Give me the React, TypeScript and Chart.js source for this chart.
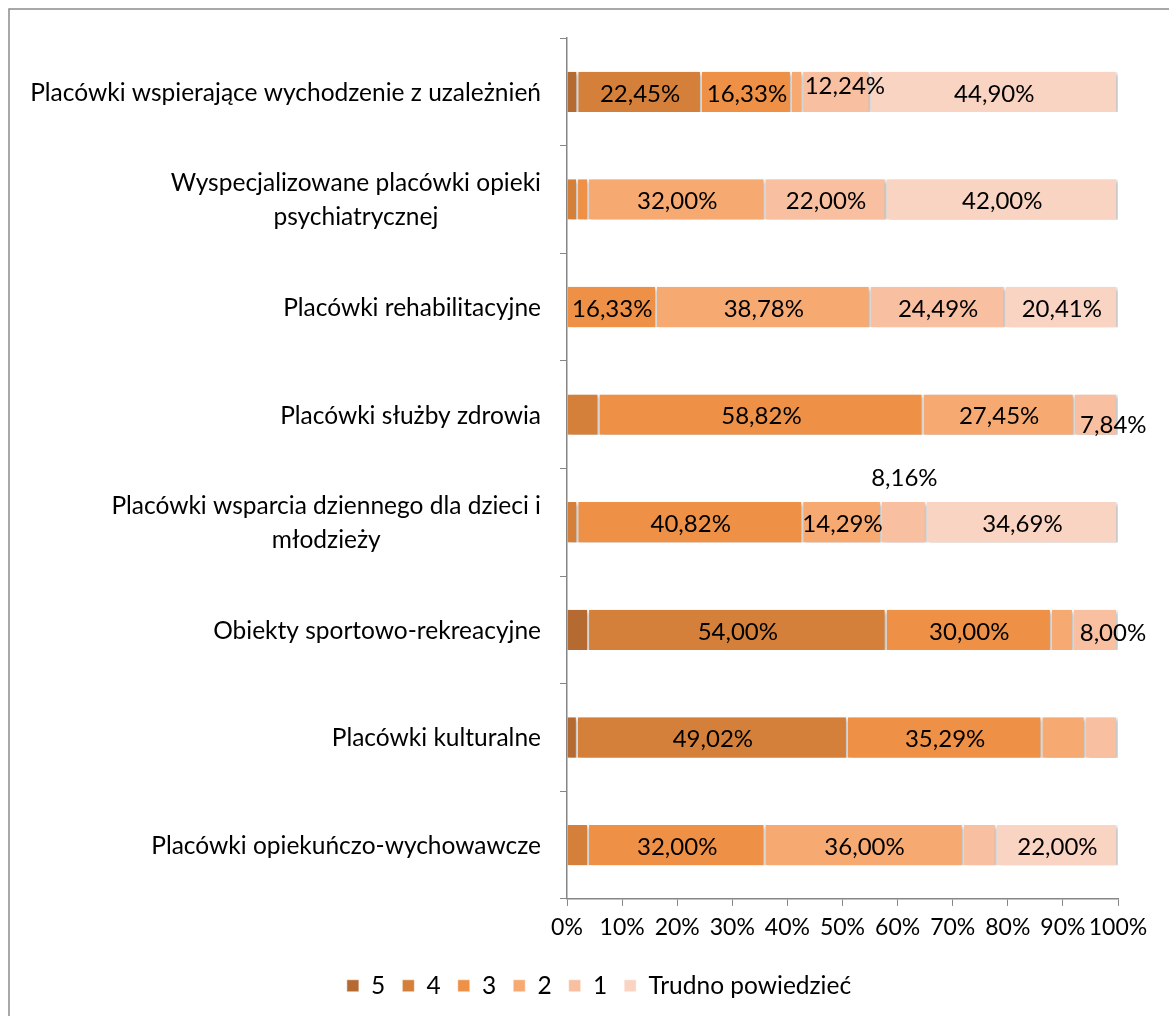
import React, { useEffect, useRef } from "react";
import { Chart, registerables } from "chart.js";

Chart.register(...registerables);

const categories: (string | string[])[] = [
  "Placówki wspierające wychodzenie z uzależnień",
  ["Wyspecjalizowane placówki opieki", "psychiatrycznej"],
  "Placówki rehabilitacyjne",
  "Placówki służby zdrowia",
  ["Placówki wsparcia dziennego dla dzieci i", "młodzieży"],
  "Obiekty sportowo-rekreacyjne",
  "Placówki kulturalne",
  "Placówki opiekuńczo-wychowawcze",
];

const seriesNames = ["5", "4", "3", "2", "1", "Trudno powiedzieć"];

const s5 = [2.04, 0, 0, 0, 0, 4, 1.96, 0];
const s4 = [22.45, 2, 0, 5.88, 2.04, 54, 49.02, 4];
const s3 = [16.33, 2, 16.33, 58.82, 40.82, 30, 35.29, 32];
const s2 = [2.04, 32, 38.78, 27.45, 14.29, 4, 7.84, 36];
const s1 = [12.24, 22, 24.49, 7.84, 8.16, 8, 5.88, 6];
const sTrudno = [44.9, 42, 20.41, 0, 34.69, 0, 0, 22];

// which segments carry a visible value label
const shown5 = [0, 0, 0, 0, 0, 0, 0, 0];
const shown4 = [1, 0, 0, 0, 0, 1, 1, 0];
const shown3 = [1, 0, 1, 1, 1, 1, 1, 1];
const shown2 = [0, 1, 1, 1, 1, 0, 0, 1];
const shown1 = [1, 1, 1, 1, 1, 1, 0, 0];
const shownTrudno = [1, 1, 1, 0, 1, 0, 0, 1];

const xTicks = [0, 10, 20, 30, 40, 50, 60, 70, 80, 90, 100];

const colors = ["#B46A30", "#D4803A", "#EE9046", "#F7A972", "#F8BFA0", "#FAD4C2"];

const FONT = "Lato";
const AXIS_GRAY = "#868686";

// label position adjustments (dataset index - category index)
const labelOffsets: Record<string, { dx: number; dy: number }> = {
  "4-0": { dx: 8, dy: -8 },
  "4-3": { dx: 17, dy: 9 },
  "4-4": { dx: 0, dy: -46 },
  "4-5": { dx: 17, dy: 1 },
};

const fmt = (v: number) => v.toFixed(2).replace(".", ",") + "%";

export default function App() {
  const ref = useRef<HTMLCanvasElement | null>(null);

  useEffect(() => {
    if (!ref.current) return;
    const values = [s5, s4, s3, s2, s1, sTrudno];
    const shown = [shown5, shown4, shown3, shown2, shown1, shownTrudno];

    const framePlugin = {
      id: "frame",
      afterLayout(chart: any) {
        const lg = chart.legend;
        if (lg) {
          lg.left += 40;
          lg.right += 40;
          lg.top += 7;
          lg.bottom += 7;
        }
      },
      beforeDraw(chart: any) {
        const ctx = chart.ctx;
        ctx.save();
        ctx.fillStyle = "#ffffff";
        ctx.fillRect(0, 0, chart.width, chart.height);
        ctx.strokeStyle = "#8c8c8c";
        ctx.lineWidth = 1.5;
        ctx.beginPath();
        ctx.moveTo(9, chart.height);
        ctx.lineTo(9, 9);
        ctx.lineTo(chart.width, 9);
        ctx.stroke();
        ctx.restore();
      },
    };

    const shadowPlugin = {
      id: "barShadow",
      beforeDatasetsDraw(chart: any) {
        const ctx = chart.ctx;
        ctx.save();
        ctx.shadowColor = "rgba(0,0,0,0.28)";
        ctx.shadowBlur = 4;
        ctx.shadowOffsetX = 2;
        ctx.shadowOffsetY = 2;
      },
      afterDatasetsDraw(chart: any) {
        chart.ctx.restore();
      },
    };

    const yLabelPlugin = {
      id: "yLabels",
      afterDraw(chart: any) {
        const ctx = chart.ctx;
        const yScale = chart.scales.y;
        const right = chart.chartArea.left - 26;
        const lineH = 34;
        ctx.save();
        ctx.font = `24.5px ${FONT}`;
        ctx.fillStyle = "#000";
        ctx.textAlign = "center";
        ctx.textBaseline = "middle";
        (chart.data.labels as any[]).forEach((lab, i) => {
          const lines: string[] = Array.isArray(lab) ? lab : [lab];
          const maxW = Math.max(...lines.map((l) => ctx.measureText(l).width));
          const cx = right - maxW / 2;
          const cy = yScale.getPixelForValue(i) + 1;
          const top = cy - ((lines.length - 1) * lineH) / 2;
          lines.forEach((l, k) => ctx.fillText(l, cx, top + k * lineH));
        });
        ctx.restore();
      },
    };

    const valueLabelPlugin = {
      id: "valueLabels",
      afterDraw(chart: any) {
        const ctx = chart.ctx;
        ctx.save();
        ctx.font = `24px ${FONT}`;
        ctx.fillStyle = "#000";
        ctx.textAlign = "center";
        ctx.textBaseline = "middle";
        chart.data.datasets.forEach((ds: any, di: number) => {
          const meta = chart.getDatasetMeta(di);
          meta.data.forEach((el: any, i: number) => {
            if (!shown[di][i]) return;
            const v = ds.data[i];
            const off = labelOffsets[`${di}-${i}`] || { dx: 0, dy: 0 };
            const cx = (el.x + el.base) / 2 + off.dx;
            const cy = el.y + 2 + off.dy;
            ctx.fillText(fmt(v), cx, cy);
          });
        });
        ctx.restore();
      },
    };

    const chart = new Chart(ref.current, {
      type: "bar",
      data: {
        labels: categories as any,
        datasets: seriesNames.map((name, i) => ({
          label: name,
          data: values[i],
          backgroundColor: colors[i],
          borderColor: "#ffffff",
          borderWidth: { left: 0, right: 2, top: 0, bottom: 0 },
          borderSkipped: false,
          barPercentage: 0.375,
          categoryPercentage: 1,
        })),
      },
      options: {
        indexAxis: "y",
        animation: false,
        responsive: false,
        maintainAspectRatio: false,
        layout: { padding: { top: 38, right: 51, left: 0, bottom: 15 } },
        scales: {
          x: {
            stacked: true,
            min: 0,
            max: 100,
            afterBuildTicks(scale: any) {
              scale.ticks = xTicks.map((v) => ({ value: v }));
            },
            ticks: {
              color: "#000",
              font: { family: FONT, size: 23 },
              padding: 8,
              maxRotation: 0,
              autoSkip: false,
              callback: (v: any) => v + "%",
            },
            grid: {
              drawOnChartArea: false,
              drawTicks: true,
              tickLength: 7,
              color: AXIS_GRAY,
            },
            border: { display: true, color: AXIS_GRAY, width: 1.5 },
          },
          y: {
            stacked: true,
            afterFit(scale: any) {
              scale.width = 567;
            },
            ticks: { display: false },
            grid: {
              drawOnChartArea: false,
              drawTicks: true,
              tickLength: 7,
              color: AXIS_GRAY,
              offset: true,
            },
            border: { display: true, color: AXIS_GRAY, width: 1.5 },
          },
        },
        plugins: {
          legend: {
            position: "bottom",
            labels: {
              color: "#000",
              font: { family: FONT, size: 24.5 },
              boxWidth: 12,
              boxHeight: 12,
              padding: 17,
            },
          },
          tooltip: { enabled: false },
        },
      },
      plugins: [framePlugin, shadowPlugin, yLabelPlugin, valueLabelPlugin],
    } as any);

    return () => chart.destroy();
  }, []);

  return (
    <div style={{ position: "fixed", left: 0, top: 0, width: 1169, height: 1016, background: "#fff" }}>
      <canvas ref={ref} width={1169} height={1016} style={{ width: 1169, height: 1016, display: "block" }} />
    </div>
  );
}
